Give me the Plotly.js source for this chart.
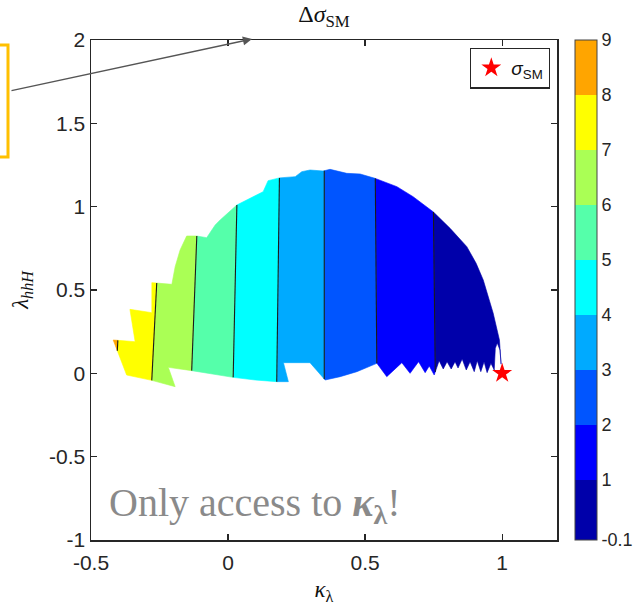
<!DOCTYPE html>
<html>
<head>
<meta charset="utf-8">
<script src="https://cdn.plot.ly/plotly-3.0.1.min.js"></script>
<style>
  html, body { margin: 0; padding: 0; background: #fff; }
  #chart { width: 635px; height: 605px; }
</style>
</head>
<body>
<div id="chart"></div>
<script>
// Allowed region of the (kappa_lambda, lambda_hhH) plane, outline traced clockwise
const regionK = [
  -0.419, -0.339, -0.358, -0.278, -0.278, -0.205, -0.193, -0.175, -0.151, -0.114,
  -0.078, -0.047, -0.029, 0.032, 0.091, 0.128, 0.146, 0.182, 0.245, 0.269,
  0.299, 0.347, 0.372, 0.433, 0.482, 0.536, 0.616, 0.675, 0.748, 0.810,
  0.871, 0.905, 0.931, 0.967, 0.990, 0.996, 0.992, 0.982, 0.975, 0.971,
  0.959, 0.945, 0.934, 0.922, 0.909, 0.898, 0.883, 0.869, 0.854, 0.839,
  0.828, 0.814, 0.799, 0.785, 0.770, 0.752, 0.734, 0.719, 0.695, 0.664,
  0.634, 0.579, 0.543, 0.470, 0.409, 0.354, 0.299, 0.202, 0.220, 0.178,
  0.099, 0.018, -0.132, -0.218, -0.193, -0.273, -0.370
];
const regionL = [
  0.200, 0.190, 0.384, 0.364, 0.544, 0.534, 0.640, 0.740, 0.824, 0.824,
  0.814, 0.890, 0.920, 1.010, 1.060, 1.090, 1.156, 1.172, 1.180, 1.210,
  1.220, 1.214, 1.224, 1.200, 1.196, 1.170, 1.120, 1.060, 0.970, 0.870,
  0.760, 0.660, 0.560, 0.362, 0.200, 0.055, 0.140, 0.182, 0.150, 0.020,
  0.060, 0.004, 0.070, 0.010, 0.076, 0.010, 0.070, 0.020, 0.086, 0.032,
  0.070, 0.026, 0.070, 0.026, 0.076, -0.010, 0.044, 0.004, 0.070, 0.000,
  0.064, -0.020, 0.060, 0.010, -0.020, -0.040, 0.064, 0.064, -0.050, -0.050,
  -0.040, -0.024, 0.016, 0.036, -0.080, -0.044, -0.010
];

// Contour levels of Delta sigma_SM and where each level crosses lambda_hhH = 0 and = 1
const levels     = [1, 2, 3, 4, 5, 6, 7, 8];
const contourK0  = [0.756, 0.543, 0.351, 0.178, 0.019, -0.133, -0.277, -0.408];
const contourK1  = [0.749, 0.538, 0.351, 0.186, 0.032, -0.110, -0.246, -0.378];

// Band edges and fill colours (lowest band first)
const bandEdges  = [-0.1, 1, 2, 3, 4, 5, 6, 7, 8, 9];
const bandColors = [
  'rgb(0,0,170)', 'rgb(0,0,255)', 'rgb(0,85,255)', 'rgb(0,170,255)', 'rgb(0,255,255)',
  'rgb(85,255,170)', 'rgb(170,255,85)', 'rgb(255,255,0)', 'rgb(255,165,0)'
];
const cbTickVals = [-0.1, 1, 2, 3, 4, 5, 6, 7, 8, 9];
const cbTickText = ['-0.1', '1', '2', '3', '4', '5', '6', '7', '8', '9'];

// Standard Model point
const smK = [1];
const smL = [0];

const xTickVals = [-0.5, 0, 0.5, 1];
const xTickText = ['-0.5', '0', '0.5', '1'];
const yTickVals = [-1, -0.5, 0, 0.5, 1, 1.5, 2];
const yTickText = ['-1', '-0.5', '0', '0.5', '1', '1.5', '2'];

// ---------- geometry helpers ----------
const region = regionK.map((k, i) => [k, regionL[i]]);

function lineK(ci, lam) {
  return contourK0[ci] + (contourK1[ci] - contourK0[ci]) * lam;
}
// keep the part of a polygon on one side of contour ci (sign +1: larger kappa)
function clipHalf(poly, ci, sign) {
  const out = [];
  const s = p => (p[0] - lineK(ci, p[1])) * sign;
  for (let i = 0; i < poly.length; i++) {
    const a = poly[i], b = poly[(i + 1) % poly.length];
    const sa = s(a), sb = s(b);
    if (sa >= 0) out.push(a);
    if ((sa >= 0) !== (sb >= 0)) {
      const t = sa / (sa - sb);
      out.push([a[0] + t * (b[0] - a[0]), a[1] + t * (b[1] - a[1])]);
    }
  }
  return out;
}

const traces = [];

// filled bands: value decreases with kappa, so band j lies right of level j+1 and left of level j
for (let j = 0; j < bandColors.length; j++) {
  let poly = region.slice();
  const upper = levels.indexOf(bandEdges[j + 1]);
  const lower = levels.indexOf(bandEdges[j]);
  if (upper >= 0) poly = clipHalf(poly, upper, +1);
  if (lower >= 0) poly = clipHalf(poly, lower, -1);
  if (poly.length < 3) continue;
  traces.push({
    type: 'scatter', mode: 'lines',
    x: poly.map(p => p[0]).concat([poly[0][0]]),
    y: poly.map(p => p[1]).concat([poly[0][1]]),
    fill: 'toself', fillcolor: bandColors[j],
    line: { color: bandColors[j], width: 0.6 },
    hoverinfo: 'skip', showlegend: false
  });
}

// contour lines, cut to the inside of the region
levels.forEach((lv, ci) => {
  const hits = [];
  for (let i = 0; i < region.length; i++) {
    const a = region[i], b = region[(i + 1) % region.length];
    const sa = a[0] - lineK(ci, a[1]), sb = b[0] - lineK(ci, b[1]);
    if ((sa >= 0) !== (sb >= 0)) {
      const t = sa / (sa - sb);
      hits.push(a[1] + t * (b[1] - a[1]));
    }
  }
  hits.sort((p, q) => p - q);
  const xs = [], ys = [];
  for (let h = 0; h + 1 < hits.length; h += 2) {
    xs.push(lineK(ci, hits[h]), lineK(ci, hits[h + 1]), null);
    ys.push(hits[h], hits[h + 1], null);
  }
  traces.push({
    type: 'scatter', mode: 'lines', x: xs, y: ys,
    line: { color: '#1a1a1a', width: 1.1 },
    hoverinfo: 'skip', showlegend: false
  });
});

// stepped colour scale for the colour bar
const cmin = bandEdges[0], cmax = bandEdges[bandEdges.length - 1];
const norm = v => (v - cmin) / (cmax - cmin);
const colorscale = [];
bandColors.forEach((c, j) => {
  colorscale.push([norm(bandEdges[j]), c]);
  colorscale.push([norm(bandEdges[j + 1]), c]);
});

const plotW = 635 - 91 - 78;
const cbX = 1 + 18 / plotW;
const cbThick = 22;

traces.push({
  type: 'scatter', mode: 'markers', x: smK, y: smL,
  marker: {
    color: [0], cmin: cmin, cmax: cmax, colorscale: colorscale, opacity: 0, size: 1,
    showscale: true,
    colorbar: {
      x: cbX, xanchor: 'left', xref: 'paper', xpad: 0,
      y: 0.5, yanchor: 'middle', len: 1, lenmode: 'fraction', ypad: 0,
      thickness: cbThick, outlinecolor: '#444', outlinewidth: 1,
      tickvals: cbTickVals, ticktext: cbTickText, ticks: '',
      tickfont: { family: 'Liberation Sans, Arial, sans-serif', size: 18, color: '#262626' }
    }
  },
  hoverinfo: 'skip', showlegend: false
});

// Standard Model point
traces.push({
  type: 'scatter', mode: 'markers', x: smK, y: smL,
  name: '<i>σ</i><sub>SM</sub>',
  marker: { symbol: 'star', size: 15, color: '#ff0000', line: { width: 0 } },
  cliponaxis: false
});

// separators between colour-bar bands
const shapes = bandEdges.slice(1, -1).map(v => ({
  type: 'line', xref: 'paper', yref: 'paper',
  x0: cbX, x1: cbX + cbThick / plotW, y0: norm(v), y1: norm(v),
  line: { color: '#333', width: 1 }
}));
shapes.push({
  type: 'rect', xref: 'paper', yref: 'paper',
  x0: -106 / plotW, x1: -83 / plotW, y0: (540 - 157) / 500, y1: (540 - 45) / 500,
  line: { color: '#FFC000', width: 3 }
});

const axisFont = { family: 'Liberation Sans, Arial, sans-serif', size: 21, color: '#262626' };
const serif = 'Liberation Serif, DejaVu Serif, serif';

const layout = {
  width: 635, height: 605,
  margin: { l: 91, r: 78, t: 40, b: 65, autoexpand: false },
  paper_bgcolor: '#fff', plot_bgcolor: '#fff',
  title: {
    text: 'Δ<i>σ</i><sub>SM</sub>',
    font: { family: serif, size: 24, color: '#111' },
    x: 0.5, xref: 'paper', xanchor: 'center',
    y: 1 - 14 / 605, yref: 'container', yanchor: 'middle'
  },
  xaxis: {
    range: [-0.5, 1.2], tickvals: xTickVals, ticktext: xTickText,
    ticks: 'inside', ticklen: 6, tickwidth: 1.3, tickcolor: '#262626',
    showline: true, linecolor: '#262626', linewidth: 1.5, mirror: 'ticks',
    showgrid: false, zeroline: false, tickfont: axisFont, ticklabelstandoff: 3,
    title: { text: '<i>κ</i><sub>λ</sub>', font: { family: serif, size: 23, color: '#111' }, standoff: 10 }
  },
  yaxis: {
    range: [-1, 2], tickvals: yTickVals, ticktext: yTickText,
    ticks: 'inside', ticklen: 6, tickwidth: 1.3, tickcolor: '#262626',
    showline: true, linecolor: '#262626', linewidth: 1.5, mirror: 'ticks',
    showgrid: false, zeroline: false, tickfont: axisFont,
    title: { text: '<i>λ</i><sub><i>hhH</i></sub>', font: { family: serif, size: 23, color: '#111' }, standoff: 14 }
  },
  showlegend: true,
  legend: {
    x: 0.985, xanchor: 'right', y: 0.985, yanchor: 'top',
    bgcolor: '#fff', bordercolor: '#262626', borderwidth: 1.3,
    font: { family: 'Liberation Sans, Arial, sans-serif', size: 19, color: '#111' },
    itemwidth: 30
  },
  shapes: shapes,
  annotations: [
    {
      xref: 'paper', yref: 'paper', x: 16 / plotW, y: (540 - 505) / 500,
      xanchor: 'left', yanchor: 'middle', showarrow: false,
      text: 'Only access to <b><i>κ</i><sub>λ</sub></b>!',
      font: { family: serif, size: 40, color: '#8a8a8a' }
    },
    {
      xref: 'paper', yref: 'paper', x: (252 - 91) / plotW, y: (540 - 39) / 500,
      ax: -242, ay: 52, text: '', showarrow: true,
      arrowhead: 2, arrowsize: 1.3, arrowwidth: 1.4, arrowcolor: '#555'
    }
  ]
};

Plotly.newPlot('chart', traces, layout, { displayModeBar: false, staticPlot: true });
</script>
</body>
</html>
